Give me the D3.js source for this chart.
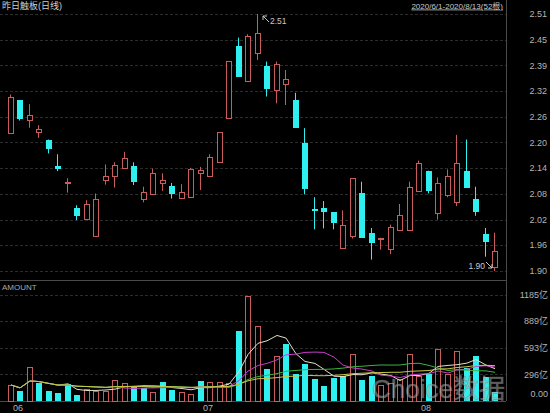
<!DOCTYPE html>
<html>
<head>
<meta charset="utf-8">
<script src="https://cdn.jsdelivr.net/npm/d3@7"></script>
<style>
body { margin: 0; background: #000; }
svg { display: block; font-family: "Liberation Sans", Arial, "Noto Sans CJK SC", sans-serif; }
</style>
</head>
<body>
<div id="chart"></div>
<script>
var title = "昨日触板(日线)";
var dates = ["6/1","6/2","6/3","6/4","6/5","6/8","6/9","6/10","6/11","6/12","6/15","6/16","6/17","6/18","6/19","6/22","6/23","6/24","6/29","6/30",
	"7/1","7/2","7/3","7/6","7/7","7/8","7/9","7/10","7/13","7/14","7/15","7/16","7/17","7/20","7/21","7/22","7/23","7/24","7/27","7/28","7/29","7/30","7/31",
	"8/3","8/4","8/5","8/6","8/7","8/10","8/11","8/12","8/13"];
var open  = [2.228,2.306,2.260,2.230,2.210,2.149,2.109,2.049,2.025,1.985,2.116,2.125,2.145,2.150,2.072,2.082,2.110,2.102,2.074,2.076,
	2.132,2.125,2.157,2.262,2.435,2.351,2.419,2.386,2.329,2.344,2.307,2.203,2.046,2.049,2.040,1.955,1.983,2.086,1.991,1.976,
	1.952,1.999,1.999,2.090,2.138,2.038,2.079,2.064,2.138,2.070,1.987,1.910];
var high  = [2.319,2.306,2.296,2.246,2.212,2.177,2.120,2.056,2.068,2.084,2.153,2.158,2.183,2.158,2.100,2.143,2.132,2.109,2.106,2.145,
	2.147,2.177,2.229,2.398,2.454,2.462,2.510,2.397,2.397,2.377,2.323,2.239,2.075,2.066,2.040,2.044,2.120,2.112,2.002,1.979,
	2.010,2.059,2.112,2.162,2.138,2.122,2.141,2.223,2.212,2.100,2.002,1.991];
var low   = [2.226,2.257,2.240,2.216,2.179,2.137,2.086,2.021,2.025,1.985,2.105,2.098,2.145,2.104,2.063,2.082,2.090,2.072,2.074,2.074,
	2.092,2.125,2.157,2.262,2.361,2.351,2.401,2.314,2.298,2.294,2.241,2.082,1.999,2.001,1.999,1.952,1.977,1.980,1.927,1.951,
	1.940,1.999,1.999,2.090,2.084,2.022,2.075,2.054,2.098,2.031,1.934,1.900];
var close = [2.314,2.262,2.271,2.238,2.189,2.143,2.112,2.029,2.060,2.072,2.126,2.151,2.169,2.112,2.088,2.132,2.116,2.082,2.088,2.143,
	2.139,2.171,2.229,2.398,2.361,2.458,2.466,2.332,2.391,2.355,2.241,2.094,2.041,2.039,2.013,2.009,2.120,1.980,1.968,1.979,
	2.005,2.034,2.100,2.157,2.090,2.110,2.125,2.157,2.098,2.038,1.969,1.947];
// 成交额, 亿
var amount = [178,115,375,197,111,86,186,67,134,115,111,234,197,160,148,104,215,123,104,78,
	223,215,215,204,780,1173,839,353,501,635,301,409,245,171,253,282,520,234,282,180,
	200,240,520,280,301,580,300,557,371,501,271,97];
var priceTicks = ["2.51","2.45","2.39","2.32","2.26","2.20","2.14","2.08","2.02","1.96","1.90"];
var amountTicks = ["1185亿","889亿","593亿","296亿","0.00"];
var amountTickValues = [1185, 889, 593, 296, 0];
var maPeriods = [5, 10, 20, 30];

function drawChart(id) {
	var w = 550, h = 413, plotR = 506;
	var red = "#c95c5c", cyan = "#2ff0f0", txt = "#b4b4b4", grid = "#2c2c2c";
	var svg = d3.select(id).append("svg").attr("width", w).attr("height", h);
	svg.append("rect").attr("width", w).attr("height", h).attr("fill", "#000");

	var x = d3.scaleBand().domain(d3.range(dates.length)).range([6.25, 500.25]).paddingInner(0.36).paddingOuter(0.18);
	var y = d3.scaleLinear().domain([1.90, 2.51]).range([271, 14]);
	var yv = d3.scaleLinear().domain([0, 1185]).range([401, 294.5]);
	var bx = function(i) { return Math.round(x(i)); };

	// header
	svg.append("text").attr("x", 2).attr("y", 9).attr("fill", "#d0d0d0").attr("font-size", 9).text(title);
	svg.append("text").attr("x", 503).attr("y", 8.5).attr("text-anchor", "end").attr("fill", "#c8c8c8")
		.attr("font-size", 8).attr("text-decoration", "underline")
		.text("2020/" + dates[0] + "-2020/" + dates[dates.length - 1] + "(" + dates.length + "根)");

	// price grid + labels
	var pt = priceTicks.map(function(d, k) { return 2.51 - k * (2.51 - 1.90) / (priceTicks.length - 1); });
	svg.append("g").selectAll("line").data(pt).enter().append("line")
		.attr("x1", 0).attr("x2", plotR).attr("y1", function(d) { return Math.round(y(d)) + 0.5; })
		.attr("y2", function(d) { return Math.round(y(d)) + 0.5; })
		.attr("stroke", grid).attr("stroke-dasharray", "3,2");
	svg.append("g").selectAll("text").data(priceTicks).enter().append("text")
		.attr("x", 547).attr("y", function(d, k) { return y(pt[k]); }).attr("dy", "0.35em")
		.attr("text-anchor", "end").attr("fill", txt).attr("font-size", 9).text(function(d) { return d; });

	// amount grid + labels
	svg.append("g").selectAll("line").data(amountTickValues.slice(0, -1)).enter().append("line")
		.attr("x1", 0).attr("x2", plotR).attr("y1", function(d) { return Math.round(yv(d)) + 0.5; })
		.attr("y2", function(d) { return Math.round(yv(d)) + 0.5; })
		.attr("stroke", grid).attr("stroke-dasharray", "3,2");
	svg.append("g").selectAll("text").data(amountTicks).enter().append("text")
		.attr("x", 548).attr("y", function(d, k) { return yv(amountTickValues[k]) - (amountTickValues[k] === 0 ? 7 : 0); })
		.attr("dy", "0.35em").attr("text-anchor", "end").attr("fill", txt).attr("font-size", 9)
		.text(function(d) { return d; });

	// frame
	svg.append("line").attr("x1", plotR + 0.5).attr("x2", plotR + 0.5).attr("y1", 0).attr("y2", 401).attr("stroke", "#4a4a4a");
	svg.append("line").attr("x1", 0).attr("x2", plotR).attr("y1", 280.5).attr("y2", 280.5).attr("stroke", "#4a4a4a");
	svg.append("line").attr("x1", 0).attr("x2", plotR).attr("y1", 401.5).attr("y2", 401.5).attr("stroke", "#4a4a4a");
	svg.append("text").attr("x", 2).attr("y", 290).attr("fill", "#a8a8a8").attr("font-size", 8).text("AMOUNT");

	// candles
	var idx = d3.range(dates.length);
	var c = svg.append("g").selectAll("g").data(idx).enter().append("g");
	c.append("line")
		.attr("x1", function(i) { return bx(i) + 2.5; }).attr("x2", function(i) { return bx(i) + 2.5; })
		.attr("y1", function(i) { return y(high[i]); }).attr("y2", function(i) { return y(low[i]); })
		.attr("stroke", function(i) { return close[i] >= open[i] ? red : cyan; });
	c.append("rect")
		.attr("x", function(i) { return close[i] >= open[i] ? bx(i) + 0.5 : bx(i); })
		.attr("width", function(i) { return close[i] >= open[i] ? 5 : 6; })
		.attr("y", function(i) { return Math.round(y(Math.max(open[i], close[i]))) + (close[i] >= open[i] ? 0.5 : 0); })
		.attr("height", function(i) { return Math.max(1, Math.round(Math.abs(y(open[i]) - y(close[i])))); })
		.attr("fill", function(i) { return close[i] >= open[i] ? "#000" : cyan; })
		.attr("stroke", function(i) { return close[i] >= open[i] ? red : "none"; });

	// high / low marks
	var hi = d3.maxIndex(high), lo = d3.minIndex(low);
	var hx = bx(hi) + 3, hy = y(high[hi]), lx = bx(lo) + 3, ly = y(low[lo]);
	svg.append("path").attr("d", "M" + (hx + 11) + "," + (hy + 8) + "L" + (hx + 5) + "," + (hy + 2) + "M" + (hx + 5) + "," + (hy + 2) + "l0,4M" + (hx + 5) + "," + (hy + 2) + "l4,0")
		.attr("stroke", "#c8c8c8").attr("fill", "none");
	svg.append("text").attr("x", hx + 12).attr("y", hy + 10).attr("fill", "#c8c8c8").attr("font-size", 8.5).text(high[hi].toFixed(2));
	svg.append("path").attr("d", "M" + (lx - 9) + "," + (ly - 9) + "L" + (lx - 3) + "," + (ly - 3) + "M" + (lx - 3) + "," + (ly - 3) + "l0,-4M" + (lx - 3) + "," + (ly - 3) + "l-4,0")
		.attr("stroke", "#c8c8c8").attr("fill", "none");
	svg.append("text").attr("x", lx - 10).attr("y", ly - 2).attr("text-anchor", "end").attr("fill", "#c8c8c8").attr("font-size", 8.5).text(low[lo].toFixed(2));

	// amount bars (color by close vs previous close)
	var up = function(i) { return i === 0 ? close[i] >= open[i] : close[i] >= close[i - 1]; };
	svg.append("g").selectAll("rect").data(idx).enter().append("rect")
		.attr("x", function(i) { return up(i) ? bx(i) + 0.5 : bx(i); })
		.attr("width", function(i) { return up(i) ? 5 : 6; })
		.attr("y", function(i) { return Math.round(yv(amount[i])) + (up(i) ? 0.5 : 0); })
		.attr("height", function(i) { return 401 - Math.round(yv(amount[i])); })
		.attr("fill", function(i) { return up(i) ? "none" : cyan; })
		.attr("stroke", function(i) { return up(i) ? red : "none"; });

	// moving averages of amount
	var maColors = ["#e6e0c8", "#c83cc8", "#3cb43c", "#c8c846"];
	var line = d3.line().x(function(d, i) { return bx(i) + 3; }).y(function(d) { return yv(d); });
	maPeriods.forEach(function(n, k) {
		var ma = amount.map(function(d, i) { return d3.mean(amount.slice(Math.max(0, i - n + 1), i + 1)); });
		svg.append("path").datum(ma).attr("d", line).attr("fill", "none").attr("stroke", maColors[k]).attr("stroke-width", 1);
	});

	// month labels
	var months = idx.filter(function(i) { return i === 0 || dates[i].split("/")[0] !== dates[i - 1].split("/")[0]; });
	svg.append("g").selectAll("text").data(months).enter().append("text")
		.attr("x", function(i) { return bx(i) + 5; }).attr("y", 411).attr("fill", txt).attr("font-size", 9)
		.text(function(i) { return ("0" + dates[i].split("/")[0]); });

	// watermark
	svg.append("text").attr("x", 372).attr("y", 398).attr("font-size", 26)
		.attr("fill", "#b8b8b8").attr("fill-opacity", 0.5).attr("stroke", "#707070").attr("stroke-opacity", 0.6).attr("stroke-width", 0.6)
		.text("Choice数据");
}

window.onload = function() {
	drawChart("#chart");
};
</script>
</body>
</html>
